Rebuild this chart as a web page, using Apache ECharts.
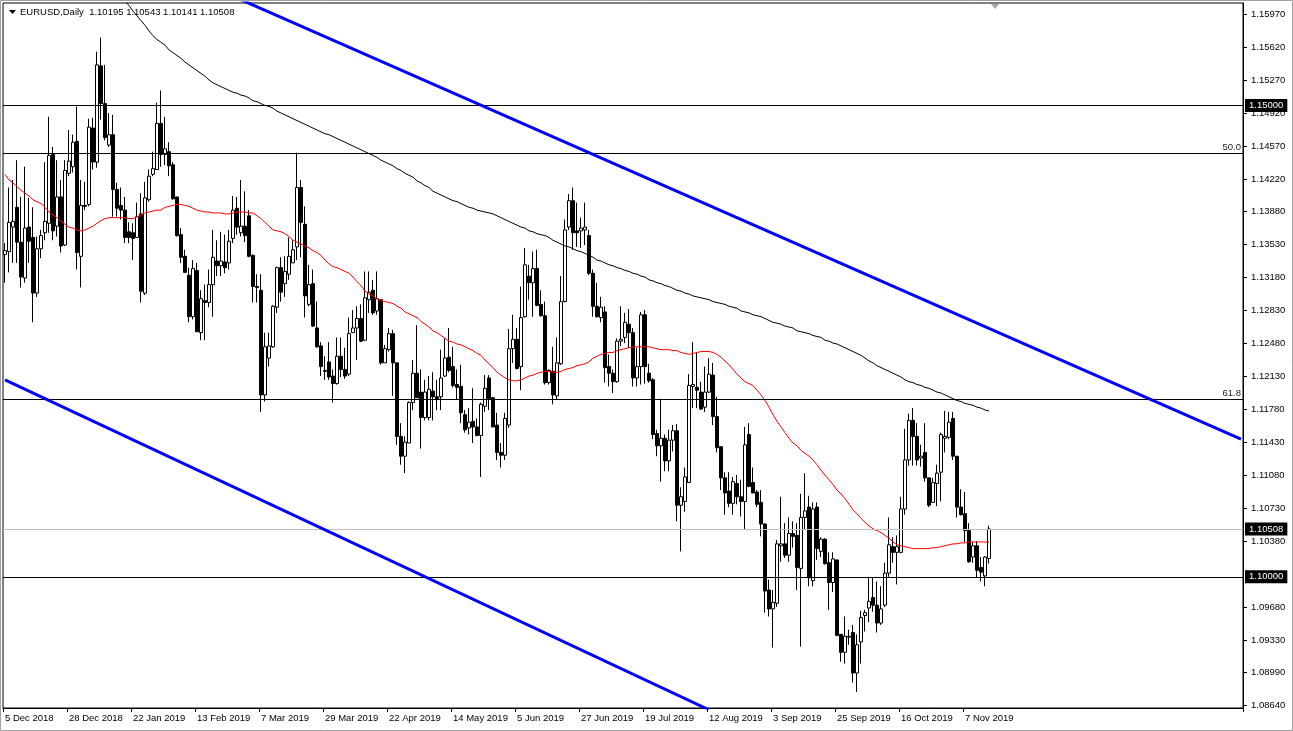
<!DOCTYPE html>
<html><head><meta charset="utf-8">
<script src="https://cdn.jsdelivr.net/npm/echarts@6/dist/echarts.min.js"></script>
<style>html,body{margin:0;padding:0;background:#fff;overflow:hidden}#c{width:1293px;height:731px}</style>
</head><body><div id="c"></div>
<script>
const symbolName = 'EURUSD,Daily';
const dateLabels = ['5 Dec 2018','28 Dec 2018','22 Jan 2019','13 Feb 2019','7 Mar 2019','29 Mar 2019','22 Apr 2019','14 May 2019','5 Jun 2019','27 Jun 2019','19 Jul 2019','12 Aug 2019','3 Sep 2019','25 Sep 2019','16 Oct 2019','7 Nov 2019'];
const barsPerLabel = 16;
const totalSlots = 310;
const priceTicks = [1.15970,1.15620,1.15270,1.14920,1.14570,1.14220,1.13880,1.13530,1.13180,1.12830,1.12480,1.12130,1.11780,1.11430,1.11080,1.10730,1.10380,1.09680,1.09330,1.08990,1.08640];
const yMin = 1.08609, yMax = 1.16087;
// daily candles: [open, high, low, close]
const ohlc = [
[1.1342,1.1354,1.1312,1.1346],[1.1345,1.1413,1.1323,1.1376],[1.1371,1.1421,1.1333,1.1377],[1.1392,1.1442,1.1333,1.1355],[1.1355,1.1403,1.1307,1.1318],
[1.1317,1.1435,1.1312,1.1370],[1.1371,1.1402,1.1333,1.1356],[1.1360,1.1392,1.1270,1.1301],[1.1301,1.1361,1.1297,1.1348],[1.1348,1.1368,1.1338,1.1362],
[1.1365,1.1440,1.1357,1.1377],[1.1375,1.1488,1.1365,1.1447],[1.1448,1.1456,1.1357,1.1367],[1.1372,1.1442,1.1361,1.1403],[1.1403,1.1421,1.1344,1.1351],
[1.1352,1.1442,1.1351,1.1431],[1.1428,1.1474,1.1425,1.1441],[1.1435,1.1469,1.1429,1.1461],[1.1462,1.1499,1.1326,1.1344],[1.1340,1.1421,1.1307,1.1394],
[1.1394,1.1419,1.1389,1.1393],[1.1395,1.1486,1.1393,1.1477],[1.1476,1.1487,1.1432,1.1440],[1.1440,1.1557,1.1434,1.1543],[1.1542,1.1572,1.1485,1.1502],
[1.1502,1.1543,1.1463,1.1466],[1.1458,1.1492,1.1456,1.1469],[1.1469,1.1490,1.1382,1.1411],[1.1411,1.1418,1.1382,1.1391],[1.1394,1.1413,1.1379,1.1389],
[1.1389,1.1403,1.1354,1.1360],[1.1366,1.1376,1.1354,1.1360],[1.1365,1.1375,1.1336,1.1359],[1.1360,1.1397,1.1360,1.1382],[1.1385,1.1407,1.1291,1.1303],
[1.1301,1.1419,1.1299,1.1402],[1.1400,1.1432,1.1398,1.1425],[1.1427,1.1451,1.1425,1.1433],[1.1432,1.1503,1.1432,1.1481],[1.1481,1.1516,1.1435,1.1448],
[1.1448,1.1488,1.1437,1.1454],[1.1451,1.1461,1.1425,1.1436],[1.1437,1.1440,1.1400,1.1401],[1.1403,1.1403,1.1361,1.1362],[1.1363,1.1370,1.1333,1.1339],
[1.1340,1.1347,1.1323,1.1323],[1.1320,1.1328,1.1270,1.1276],[1.1276,1.1336,1.1273,1.1327],[1.1325,1.1333,1.1260,1.1260],[1.1259,1.1304,1.1251,1.1295],
[1.1293,1.1310,1.1251,1.1291],[1.1291,1.1326,1.1286,1.1310],[1.1310,1.1368,1.1276,1.1339],[1.1335,1.1357,1.1319,1.1330],[1.1330,1.1366,1.1319,1.1335],
[1.1334,1.1363,1.1322,1.1328],[1.1333,1.1368,1.1326,1.1356],[1.1359,1.1404,1.1354,1.1389],[1.1391,1.1403,1.1363,1.1371],[1.1365,1.1421,1.1361,1.1372],
[1.1372,1.1409,1.1355,1.1362],[1.1383,1.1389,1.1339,1.1340],[1.1341,1.1342,1.1291,1.1308],[1.1308,1.1321,1.1291,1.1307],[1.1304,1.1321,1.1175,1.1193],
[1.1193,1.1259,1.1186,1.1244],[1.1232,1.1259,1.1223,1.1245],[1.1244,1.1288,1.1243,1.1287],[1.1286,1.1329,1.1280,1.1328],[1.1328,1.1339,1.1292,1.1302],
[1.1311,1.1340,1.1297,1.1324],[1.1321,1.1360,1.1315,1.1340],[1.1333,1.1357,1.1333,1.1347],[1.1350,1.1450,1.1336,1.1413],[1.1413,1.1421,1.1339,1.1376],
[1.1374,1.1393,1.1275,1.1298],[1.1289,1.1331,1.1287,1.1310],[1.1311,1.1326,1.1265,1.1266],[1.1264,1.1292,1.1243,1.1244],[1.1245,1.1249,1.1213,1.1223],
[1.1219,1.1234,1.1209,1.1218],[1.1228,1.1249,1.1209,1.1212],[1.1213,1.1220,1.1185,1.1205],[1.1205,1.1254,1.1204,1.1234],[1.1234,1.1254,1.1212,1.1220],
[1.1220,1.1243,1.1210,1.1213],[1.1215,1.1275,1.1213,1.1258],[1.1259,1.1283,1.1259,1.1264],[1.1264,1.1287,1.1230,1.1274],[1.1274,1.1289,1.1249,1.1250],
[1.1251,1.1324,1.1250,1.1296],[1.1294,1.1324,1.1280,1.1302],[1.1304,1.1315,1.1278,1.1280],[1.1282,1.1324,1.1278,1.1295],[1.1294,1.1294,1.1225,1.1227],
[1.1227,1.1246,1.1227,1.1242],[1.1241,1.1264,1.1239,1.1258],[1.1258,1.1262,1.1192,1.1227],[1.1227,1.1227,1.1140,1.1149],[1.1149,1.1163,1.1119,1.1128],
[1.1128,1.1149,1.1110,1.1143],[1.1142,1.1186,1.1142,1.1185],[1.1185,1.1230,1.1177,1.1216],[1.1216,1.1267,1.1190,1.1190],[1.1196,1.1220,1.1136,1.1169],
[1.1169,1.1209,1.1166,1.1196],[1.1169,1.1213,1.1166,1.1199],[1.1197,1.1217,1.1166,1.1191],[1.1191,1.1209,1.1177,1.1188],[1.1191,1.1241,1.1177,1.1211],
[1.1213,1.1253,1.1212,1.1232],[1.1233,1.1264,1.1217,1.1219],[1.1223,1.1244,1.1201,1.1203],[1.1204,1.1220,1.1188,1.1201],[1.1202,1.1225,1.1163,1.1174],
[1.1172,1.1177,1.1153,1.1156],[1.1158,1.1179,1.1151,1.1164],[1.1165,1.1200,1.1142,1.1159],[1.1159,1.1168,1.1149,1.1150],[1.1150,1.1185,1.1106,1.1183],
[1.1181,1.1214,1.1175,1.1200],[1.1211,1.1214,1.1177,1.1189],[1.1190,1.1191,1.1159,1.1159],[1.1161,1.1174,1.1124,1.1132],[1.1132,1.1142,1.1116,1.1129],
[1.1129,1.1174,1.1124,1.1168],[1.1161,1.1263,1.1158,1.1242],[1.1242,1.1278,1.1227,1.1252],[1.1252,1.1264,1.1220,1.1221],[1.1223,1.1308,1.1198,1.1275],
[1.1276,1.1349,1.1275,1.1331],[1.1319,1.1331,1.1294,1.1312],[1.1312,1.1345,1.1276,1.1327],[1.1327,1.1347,1.1287,1.1288],[1.1289,1.1304,1.1276,1.1277],
[1.1277,1.1292,1.1204,1.1206],[1.1206,1.1220,1.1204,1.1219],[1.1218,1.1244,1.1183,1.1193],[1.1192,1.1254,1.1188,1.1227],[1.1226,1.1319,1.1225,1.1292],
[1.1292,1.1379,1.1291,1.1368],[1.1371,1.1406,1.1368,1.1399],[1.1399,1.1413,1.1347,1.1365],[1.1367,1.1397,1.1350,1.1365],[1.1367,1.1381,1.1349,1.1370],
[1.1368,1.1397,1.1352,1.1371],[1.1362,1.1368,1.1320,1.1322],[1.1322,1.1326,1.1276,1.1287],[1.1287,1.1312,1.1275,1.1276],[1.1275,1.1297,1.1270,1.1286],
[1.1281,1.1287,1.1206,1.1222],[1.1223,1.1236,1.1202,1.1216],[1.1216,1.1220,1.1195,1.1207],[1.1207,1.1253,1.1206,1.1250],[1.1250,1.1287,1.1245,1.1252],
[1.1254,1.1280,1.1248,1.1270],[1.1268,1.1284,1.1243,1.1259],[1.1259,1.1264,1.1202,1.1211],[1.1211,1.1243,1.1202,1.1223],[1.1223,1.1281,1.1204,1.1278],
[1.1278,1.1283,1.1205,1.1223],[1.1216,1.1226,1.1206,1.1208],[1.1209,1.1211,1.1146,1.1151],[1.1152,1.1156,1.1128,1.1139],[1.1139,1.1189,1.1101,1.1147],
[1.1147,1.1151,1.1112,1.1123],[1.1123,1.1156,1.1112,1.1145],[1.1145,1.1161,1.1133,1.1155],[1.1155,1.1162,1.1059,1.1076],[1.1076,1.1095,1.1027,1.1085],
[1.1080,1.1116,1.1069,1.1106],[1.1100,1.1215,1.1100,1.1203],[1.1202,1.1249,1.1179,1.1204],[1.1201,1.1238,1.1179,1.1198],[1.1196,1.1207,1.1177,1.1178],
[1.1180,1.1223,1.1175,1.1196],[1.1196,1.1232,1.1195,1.1215],[1.1214,1.1227,1.1161,1.1170],[1.1170,1.1191,1.1132,1.1137],[1.1138,1.1138,1.1092,1.1105],
[1.1105,1.1111,1.1066,1.1089],[1.1091,1.1111,1.1074,1.1078],[1.1078,1.1106,1.1066,1.1101],[1.1099,1.1108,1.1077,1.1085],[1.1085,1.1103,1.1064,1.1080],
[1.1080,1.1159,1.1050,1.1140],[1.1151,1.1163,1.1095,1.1096],[1.1100,1.1116,1.1089,1.1089],[1.1090,1.1092,1.1074,1.1077],[1.1079,1.1092,1.1043,1.1056],
[1.1056,1.1057,1.0962,1.0985],[1.0986,1.0997,1.0958,1.0966],[1.0966,1.0986,1.0925,1.0973],[1.0972,1.1039,1.0968,1.1035],[1.1033,1.1085,1.1016,1.1035],
[1.1035,1.1057,1.1020,1.1023],[1.1023,1.1063,1.1016,1.1046],[1.1046,1.1059,1.1031,1.1043],[1.1044,1.1057,1.0986,1.1010],[1.1009,1.1088,1.0926,1.1063],
[1.1063,1.1110,1.1050,1.1070],[1.1074,1.1086,1.0990,1.0999],[1.0996,1.1079,1.0990,1.1072],[1.1074,1.1079,1.1018,1.1030],[1.1027,1.1042,1.1021,1.1040],
[1.1040,1.1041,1.1013,1.1014],[1.1015,1.1026,1.0965,1.0994],[1.0994,1.1026,1.0984,1.1019],[1.1018,1.1018,1.0937,1.0938],[1.0939,1.0939,1.0910,1.0920],
[1.0920,1.0958,1.0908,1.0937],[1.0936,1.0944,1.0928,1.0937],[1.0941,1.0949,1.0888,1.0898],[1.0898,1.0939,1.0878,1.0928],[1.0931,1.0964,1.0908,1.0957],
[1.0959,1.0965,1.0942,1.0962],[1.0967,1.1000,1.0952,1.0974],[1.0978,1.1000,1.0963,1.0970],[1.0970,1.0995,1.0941,1.0951],[1.0951,1.0990,1.0949,1.0966],
[1.0970,1.1015,1.0968,1.1004],[1.1004,1.1063,1.1000,1.1034],[1.1032,1.1042,1.1015,1.1026],[1.1026,1.1044,1.0992,1.1032],[1.1026,1.1085,1.1025,1.1072],
[1.1072,1.1157,1.1066,1.1124],[1.1124,1.1173,1.1118,1.1166],[1.1166,1.1179,1.1118,1.1149],[1.1149,1.1163,1.1118,1.1124],[1.1126,1.1140,1.1117,1.1128],
[1.1132,1.1163,1.1101,1.1105],[1.1105,1.1105,1.1074,1.1076],[1.1079,1.1105,1.1079,1.1100],[1.1099,1.1119,1.1075,1.1110],[1.1111,1.1153,1.1080,1.1151],
[1.1147,1.1176,1.1132,1.1149],[1.1148,1.1175,1.1146,1.1164],[1.1168,1.1175,1.1124,1.1128],[1.1128,1.1128,1.1063,1.1074],[1.1074,1.1093,1.1065,1.1066],
[1.1067,1.1090,1.1037,1.1049],[1.1049,1.1057,1.1015,1.1016],[1.1021,1.1037,1.1015,1.1033],[1.1033,1.1038,1.0999,1.1007],[1.1010,1.1021,1.0995,1.1005],
[1.1001,1.1022,1.0990,1.1021],[1.10195,1.10543,1.10141,1.10508]
];
// red moving average, one value per candle
const maRed = [
1.1427,1.1421,1.1418,1.1414,1.1410,1.1407,1.1404,1.1400,1.1398,1.1396,
1.1392,1.1387,1.1384,1.1381,1.1377,1.1374,1.1371,1.1370,1.1368,1.1367,
1.1368,1.1370,1.1372,1.1375,1.1378,1.1380,1.1381,1.1381,1.1381,1.1381,
1.1381,1.1380,1.1380,1.1382,1.1384,1.1386,1.1387,1.1388,1.1389,1.1389,
1.1392,1.1393,1.1394,1.1395,1.1395,1.1394,1.1393,1.1391,1.1389,1.1388,
1.1387,1.1387,1.1386,1.1386,1.1386,1.1385,1.1385,1.1386,1.1387,1.1387,
1.1387,1.1386,1.1386,1.1383,1.1380,1.1376,1.1372,1.1368,1.1367,1.1366,
1.1364,1.1361,1.1357,1.1355,1.1353,1.1351,1.1349,1.1346,1.1344,1.1341,
1.1336,1.1332,1.1329,1.1328,1.1326,1.1324,1.1322,1.1318,1.1313,1.1309,
1.1303,1.1300,1.1298,1.1295,1.1293,1.1292,1.1291,1.1290,1.1287,1.1285,
1.1281,1.1279,1.1277,1.1275,1.1271,1.1268,1.1265,1.1261,1.1259,1.1256,
1.1253,1.1250,1.1249,1.1247,1.1246,1.1244,1.1242,1.1240,1.1237,1.1235,
1.1230,1.1226,1.1222,1.1217,1.1214,1.1211,1.1209,1.1208,1.1208,1.1209,
1.1211,1.1213,1.1214,1.1216,1.1217,1.1218,1.1218,1.1217,1.1217,1.1218,
1.1220,1.1221,1.1222,1.1224,1.1225,1.1226,1.1228,1.1232,1.1234,1.1236,
1.1237,1.1238,1.1238,1.1240,1.1241,1.1242,1.1243,1.1244,1.1244,1.1244,
1.1244,1.1244,1.1243,1.1242,1.1241,1.1241,1.1241,1.1240,1.1240,1.1238,
1.1237,1.1236,1.1237,1.1238,1.1239,1.1239,1.1239,1.1238,1.1236,1.1233,
1.1229,1.1225,1.1220,1.1215,1.1211,1.1207,1.1205,1.1203,1.1198,1.1193,
1.1187,1.1180,1.1172,1.1165,1.1159,1.1153,1.1147,1.1142,1.1139,1.1134,
1.1131,1.1128,1.1124,1.1119,1.1113,1.1108,1.1103,1.1098,1.1092,1.1088,
1.1083,1.1077,1.1071,1.1067,1.1062,1.1058,1.1054,1.1051,1.1049,1.1047,
1.1044,1.1041,1.1037,1.1034,1.1033,1.1032,1.1031,1.1030,1.1030,1.1030,
1.1030,1.1030,1.1031,1.1031,1.1032,1.1033,1.1034,1.1035,1.1035,1.1036,
1.1036,1.1037,1.1037,1.1037,1.1037,1.1037,1.1037
];
// black moving average, starts at candle index maBlackStart
const maBlackStart = 29;
const maBlack = [
1.1616,1.1611,1.1606,1.1600,1.1595,1.1590,1.1585,1.1579,1.1574,1.1570,
1.1567,1.1564,1.1559,1.1556,1.1553,1.1550,1.1546,1.1543,1.1540,1.1537,
1.1534,1.1531,1.1527,1.1524,1.1522,1.1520,1.1518,1.1516,1.1514,1.1513,
1.1511,1.1510,1.1508,1.1505,1.1504,1.1502,1.1500,1.1499,1.1497,1.1494,
1.1492,1.1490,1.1488,1.1486,1.1484,1.1482,1.1480,1.1478,1.1476,1.1474,
1.1472,1.1470,1.1469,1.1467,1.1465,1.1463,1.1461,1.1459,1.1457,1.1455,
1.1453,1.1451,1.1449,1.1447,1.1445,1.1442,1.1440,1.1438,1.1436,1.1433,
1.1431,1.1428,1.1426,1.1424,1.1420,1.1418,1.1415,1.1413,1.1409,1.1407,
1.1405,1.1403,1.1401,1.1399,1.1398,1.1396,1.1394,1.1392,1.1391,1.1389,
1.1388,1.1387,1.1386,1.1385,1.1383,1.1381,1.1379,1.1377,1.1375,1.1373,
1.1371,1.1370,1.1367,1.1366,1.1364,1.1363,1.1362,1.1360,1.1357,1.1355,
1.1353,1.1351,1.1350,1.1348,1.1346,1.1345,1.1343,1.1341,1.1339,1.1336,
1.1335,1.1333,1.1331,1.1330,1.1328,1.1327,1.1325,1.1324,1.1322,1.1321,
1.1319,1.1318,1.1315,1.1314,1.1312,1.1311,1.1309,1.1308,1.1306,1.1304,
1.1303,1.1301,1.1300,1.1298,1.1297,1.1296,1.1295,1.1294,1.1292,1.1291,
1.1290,1.1289,1.1287,1.1286,1.1285,1.1282,1.1281,1.1280,1.1278,1.1277,
1.1276,1.1274,1.1272,1.1270,1.1269,1.1268,1.1266,1.1265,1.1264,1.1261,
1.1260,1.1259,1.1258,1.1256,1.1255,1.1254,1.1251,1.1250,1.1248,1.1247,
1.1245,1.1243,1.1241,1.1239,1.1237,1.1235,1.1232,1.1229,1.1227,1.1224,
1.1222,1.1220,1.1218,1.1216,1.1214,1.1212,1.1209,1.1207,1.1206,1.1204,
1.1203,1.1201,1.1200,1.1198,1.1196,1.1195,1.1193,1.1191,1.1189,1.1187,
1.1186,1.1184,1.1183,1.1182,1.1180,1.1179,1.1177,1.1176
];
// channel trend lines: [candle index, price]
const channelTop = [[58, 1.1614], [309, 1.1146]];
const channelBottom = [[0, 1.1209], [176, 1.0859]];
// horizontal levels
const roundLevels = [1.15000, 1.10000];
const fibLevels = [1.1449, 1.1188];
const fibNames = ['50.0', '61.8'];

const FONT = '"Liberation Sans", Arial, sans-serif';
const cats = [];
for (let i = 0; i < totalSlots; i++) cats.push(String(i));
const candleData = ohlc.map(r => [r[0], r[3], r[2], r[1]]);
const blackData = [];
for (let i = 0; i < ohlc.length; i++) blackData.push(i < maBlackStart ? null : maBlack[i - maBlackStart]);
const last = ohlc[ohlc.length - 1];
const lastClose = last[3];
const isLabelSlot = i => i % barsPerLabel === 0 && i / barsPerLabel < dateLabels.length;

const boxLabel = (txt) => ({
  show: true, position: 'end', distance: 2, formatter: txt,
  color: '#fff', backgroundColor: '#000', padding: [2, 4, 1, 4],
  fontFamily: FONT, fontSize: 9.5
});
const markLines = [];
roundLevels.forEach(v => markLines.push({ yAxis: v, lineStyle: { color: '#000', width: 1, type: 'solid' }, label: boxLabel(v.toFixed(5)) }));
markLines.push({ yAxis: lastClose, lineStyle: { color: '#c0c0c0', width: 1, type: 'solid' }, label: boxLabel(lastClose.toFixed(5)) });
fibLevels.forEach((v, k) => markLines.push({ yAxis: v, lineStyle: { color: '#000', width: 1, type: 'solid' },
  label: { show: true, position: 'insideEndTop', distance: 1, formatter: fibNames[k], color: '#222', fontFamily: FONT, fontSize: 9.5, padding: [0, 1, 0, 0] } }));

const chart = echarts.init(document.getElementById('c'), null, { renderer: 'canvas' });
chart.setOption({
  animation: false,
  backgroundColor: '#fff',
  grid: { left: 3, right: 50, top: 3, bottom: 23, show: true, borderColor: '#000', borderWidth: 1, backgroundColor: '#fff' },
  xAxis: {
    type: 'category', data: cats, boundaryGap: true,
    axisLine: { show: true, lineStyle: { color: '#000' } },
    axisTick: { show: true, interval: (i) => isLabelSlot(i), length: 4, alignWithLabel: false, lineStyle: { color: '#000' } },
    axisLabel: {
      interval: (i) => isLabelSlot(i), align: 'left', margin: 5, color: '#000', fontFamily: FONT, fontSize: 9.5,
      formatter: (v, i) => isLabelSlot(i) ? dateLabels[i / barsPerLabel] : ''
    },
    splitLine: { show: false }
  },
  yAxis: {
    type: 'value', position: 'right', min: yMin, max: yMax, scale: true,
    axisLine: { show: true, lineStyle: { color: '#000' } },
    axisTick: { show: true, length: 4, customValues: priceTicks, lineStyle: { color: '#000' } },
    axisLabel: { customValues: priceTicks, margin: 8, color: '#000', fontFamily: FONT, fontSize: 9.5, formatter: v => v.toFixed(5) },
    splitLine: { show: false }
  },
  graphic: [
    { type: 'rect', shape: { x: 0.5, y: 0.5, width: 1292, height: 730 }, style: { fill: 'none', stroke: '#a0a0a0', lineWidth: 1 }, silent: true, z: 100 },
    { type: 'polygon', shape: { points: [[9, 10], [16, 10], [12.5, 14]] }, style: { fill: '#000' }, silent: true, z: 100 },
    { type: 'text', left: 20, top: 7, style: { text: symbolName + '  ' + last.map(v => v.toFixed(5)).join(' '), fill: '#000', font: '9.5px ' + FONT }, silent: true, z: 100 },
    { type: 'polygon', shape: { points: [[991, 4], [999, 4], [995, 9]] }, style: { fill: '#a8a8a8' }, silent: true, z: 100 }
  ],
  series: [
    {
      type: 'candlestick', data: candleData, barWidth: 3, z: 3,
      itemStyle: { color: '#fff', color0: '#000', borderColor: '#000', borderColor0: '#000', borderWidth: 1 },
      emphasis: { disabled: true }, silent: true
    },
    { type: 'line', data: maRed, showSymbol: false, symbol: 'none', lineStyle: { color: '#ff0000', width: 1 }, z: 4, silent: true },
    { type: 'line', data: blackData, showSymbol: false, symbol: 'none', lineStyle: { color: '#000', width: 1 }, z: 4, silent: true },
    { type: 'line', data: channelTop, showSymbol: false, symbol: 'none', lineStyle: { color: '#0000ff', width: 3 }, z: 5, silent: true, clip: true },
    { type: 'line', data: channelBottom, showSymbol: false, symbol: 'none', lineStyle: { color: '#0000ff', width: 3 }, z: 5, silent: true, clip: true },
    {
      type: 'line', data: [], z: 6, silent: true, clip: false,
      markLine: { silent: true, precision: 6, symbol: ['none', 'none'], animation: false, emphasis: { disabled: true }, data: markLines }
    }
  ]
});
</script></body></html>
